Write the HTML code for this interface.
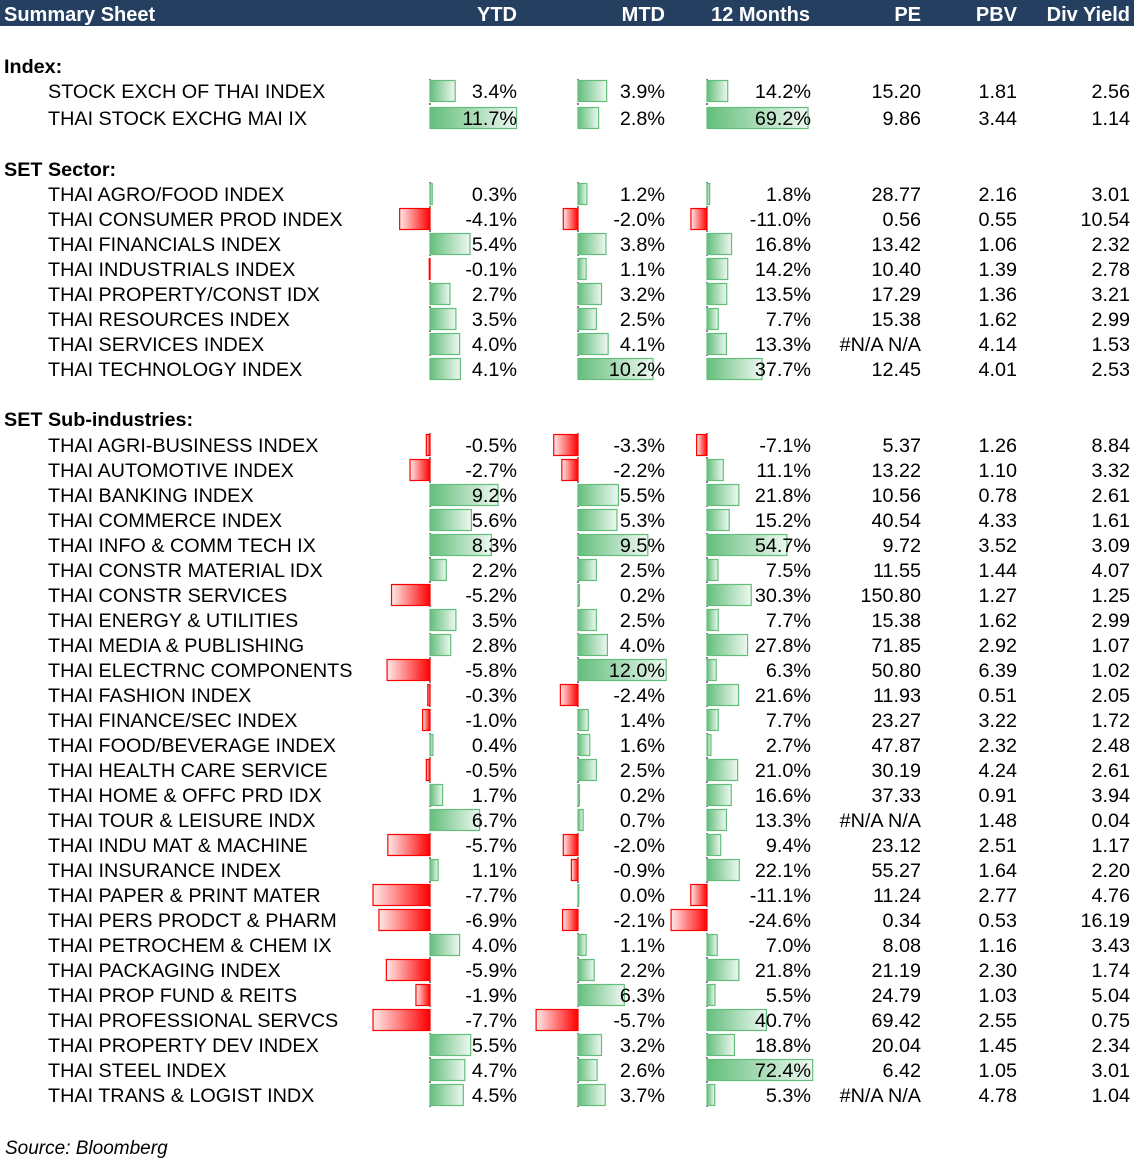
<!DOCTYPE html>
<html><head><meta charset="utf-8"><style>
body{margin:0;background:#fff;}
svg{display:block;font-family:"Liberation Sans",Arial,sans-serif;}
</style></head><body>
<svg id="c" width="1134" height="1160">
<defs>
<linearGradient id="gp" x1="0" x2="1"><stop offset="0" stop-color="#63be7b"/><stop offset="1" stop-color="#eef8f1"/></linearGradient>
<linearGradient id="gn" x1="0" x2="1"><stop offset="0" stop-color="#ffeaea"/><stop offset="1" stop-color="#ff0000"/></linearGradient>
</defs>
<rect x="0" y="0" width="1134" height="26" fill="#243f60"/>
<g fill="#fff" font-weight="bold" font-size="20">
<text x="4" y="21">Summary Sheet</text>
<text x="517" y="21" text-anchor="end">YTD</text>
<text x="665" y="21" text-anchor="end">MTD</text>
<text x="810" y="21" text-anchor="end">12 Months</text>
<text x="921" y="21" text-anchor="end">PE</text>
<text x="1017" y="21" text-anchor="end">PBV</text>
<text x="1130" y="21" text-anchor="end">Div Yield</text>
</g>
<text x="5" y="1154" font-size="19" font-style="italic">Source: Bloomberg</text>
</svg>
<script>
const sectionTitles=["Index:","SET Sector:","SET Sub-industries:"];
const sectionTitleY=[66,169,419];
const sectionFirstY=[91,194,445];
const sectionStep=[27,25,25];
const names=[
["STOCK EXCH OF THAI INDEX","THAI STOCK EXCHG MAI IX"],
["THAI AGRO/FOOD INDEX","THAI CONSUMER PROD INDEX","THAI FINANCIALS INDEX","THAI INDUSTRIALS INDEX","THAI PROPERTY/CONST IDX","THAI RESOURCES INDEX","THAI SERVICES INDEX","THAI TECHNOLOGY INDEX"],
["THAI AGRI-BUSINESS INDEX","THAI AUTOMOTIVE INDEX","THAI BANKING INDEX","THAI COMMERCE INDEX","THAI INFO & COMM TECH IX","THAI CONSTR MATERIAL IDX","THAI CONSTR SERVICES","THAI ENERGY & UTILITIES","THAI MEDIA & PUBLISHING","THAI ELECTRNC COMPONENTS","THAI FASHION INDEX","THAI FINANCE/SEC INDEX","THAI FOOD/BEVERAGE INDEX","THAI HEALTH CARE SERVICE","THAI HOME & OFFC PRD IDX","THAI TOUR & LEISURE INDX","THAI INDU MAT & MACHINE","THAI INSURANCE INDEX","THAI PAPER & PRINT MATER","THAI PERS PRODCT & PHARM","THAI PETROCHEM & CHEM IX","THAI PACKAGING INDEX","THAI PROP FUND & REITS","THAI PROFESSIONAL SERVCS","THAI PROPERTY DEV INDEX","THAI STEEL INDEX","THAI TRANS & LOGIST INDX"]];
const ytd=[[3.4,11.7],[0.3,-4.1,5.4,-0.1,2.7,3.5,4.0,4.1],[-0.5,-2.7,9.2,5.6,8.3,2.2,-5.2,3.5,2.8,-5.8,-0.3,-1.0,0.4,-0.5,1.7,6.7,-5.7,1.1,-7.7,-6.9,4.0,-5.9,-1.9,-7.7,5.5,4.7,4.5]];
const mtd=[[3.9,2.8],[1.2,-2.0,3.8,1.1,3.2,2.5,4.1,10.2],[-3.3,-2.2,5.5,5.3,9.5,2.5,0.2,2.5,4.0,12.0,-2.4,1.4,1.6,2.5,0.2,0.7,-2.0,-0.9,0.0,-2.1,1.1,2.2,6.3,-5.7,3.2,2.6,3.7]];
const m12=[[14.2,69.2],[1.8,-11.0,16.8,14.2,13.5,7.7,13.3,37.7],[-7.1,11.1,21.8,15.2,54.7,7.5,30.3,7.7,27.8,6.3,21.6,7.7,2.7,21.0,16.6,13.3,9.4,22.1,-11.1,-24.6,7.0,21.8,5.5,40.7,18.8,72.4,5.3]];
const pe=[["15.20","9.86"],["28.77","0.56","13.42","10.40","17.29","15.38","#N/A N/A","12.45"],["5.37","13.22","10.56","40.54","9.72","11.55","150.80","15.38","71.85","50.80","11.93","23.27","47.87","30.19","37.33","#N/A N/A","23.12","55.27","11.24","0.34","8.08","21.19","24.79","69.42","20.04","6.42","#N/A N/A"]];
const pbv=[["1.81","3.44"],["2.16","0.55","1.06","1.39","1.36","1.62","4.14","4.01"],["1.26","1.10","0.78","4.33","3.52","1.44","1.27","1.62","2.92","6.39","0.51","3.22","2.32","4.24","0.91","1.48","2.51","1.64","2.77","0.53","1.16","2.30","1.03","2.55","1.45","1.05","4.78"]];
const dy=[["2.56","1.14"],["3.01","10.54","2.32","2.78","3.21","2.99","1.53","2.53"],["8.84","3.32","2.61","1.61","3.09","4.07","1.25","2.99","1.07","1.02","2.05","1.72","2.48","2.61","3.94","0.04","1.17","2.20","4.76","16.19","3.43","1.74","5.04","0.75","2.34","3.01","1.04"]];
const svg=document.getElementById('c');
const NS='http://www.w3.org/2000/svg';
const FS=19.8;
function mk(t,a,p){const e=document.createElementNS(NS,t);for(const k in a)e.setAttribute(k,a[k]);(p||svg).appendChild(e);return e;}
const cols=[{data:ytd,x0:430,s:7.4,right:517,n:'ytd'},{data:mtd,x0:578,s:7.35,right:665,n:'mtd'},{data:m12,x0:707,s:1.46,right:811,n:'12m'}];
function bx(c,v){return v>=0?c.x0:c.x0+v*c.s;}
function bw(c,v){return Math.max(Math.abs(v)*c.s,0.8);}
sectionTitles.forEach((t,si)=>{
  const h=mk('text',{x:4,y:sectionTitleY[si]+7,'font-size':FS,'font-weight':'bold'});
  h.textContent=t;
  
  
  const n=names[si].length;
  const y0=sectionFirstY[si]-12, y1=sectionFirstY[si]+(n-1)*sectionStep[si]+12;
  cols.forEach(c=>{
    const l=mk('line',{x1:c.x0,x2:c.x0,y1:y0,y2:y1,stroke:'#000','stroke-dasharray':'2,2','stroke-width':1});
    
    
  });
  names[si].forEach((nm,i)=>{
    const cy=sectionFirstY[si]+i*sectionStep[si];
    const g=mk('g',{});
    
    
    const lt=mk('text',{x:48,y:cy+7,'font-size':FS},g);lt.textContent=nm;
    
    
    cols.forEach(c=>{
      const v=c.data[si][i];
      const r=mk('rect',{x:bx(c,v),y:cy-10.5,width:bw(c,v),height:21,fill:v>=0?'url(#gp)':'url(#gn)',stroke:v>=0?'#63be7b':'#ff0000','stroke-width':1.2},g);
      
      
      const t=mk('text',{x:c.right,y:cy+7,'font-size':FS,'text-anchor':'end'},g);
      t.textContent=v.toFixed(1)+'%';
      
      
    });
    [[pe,921,'pe'],[pbv,1017,'pbv'],[dy,1130,'div-yield']].forEach(([arr,x,n])=>{
      const t=mk('text',{x:x,y:cy+7,'font-size':FS,'text-anchor':'end'},g);
      t.textContent=arr[si][i];
      
      
    });
  });
});
</script>
</body></html>
